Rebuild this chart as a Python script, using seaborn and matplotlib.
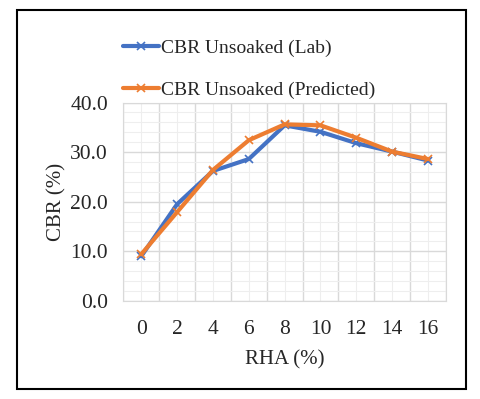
import matplotlib
matplotlib.use("Agg")
import matplotlib.pyplot as plt
from matplotlib.patches import Rectangle
from matplotlib.ticker import MultipleLocator
import seaborn as sns
import pandas as pd

rha = [0, 2, 4, 6, 8, 10, 12, 14, 16]
cbr_lab = [9.0, 19.5, 26.2, 28.6, 35.4, 34.1, 31.8, 30.1, 28.3]
cbr_pred = [9.4, 17.9, 26.4, 32.4, 35.6, 35.4, 32.9, 30.1, 28.6]
labels = ["CBR Unsoaked (Lab)", "CBR Unsoaked (Predicted)"]

df = pd.DataFrame({
    "RHA": rha * 2,
    "CBR": cbr_lab + cbr_pred,
    "series": [labels[0]] * len(rha) + [labels[1]] * len(rha),
})

sns.set_style("white")
plt.rcParams["font.family"] = ["Liberation Serif", "DejaVu Serif"]

fig = plt.figure(figsize=(4.8, 3.99), dpi=100)
ax = fig.add_axes([0.257, 0.246, 0.672, 0.497])

sns.lineplot(data=df, x="RHA", y="CBR", hue="series",
             palette=["#4472C4", "#ED7D31"], marker="x", markersize=6,
             markeredgewidth=1.2, linewidth=3, ax=ax, legend=False)
for ln in ax.get_lines():
    ln.set_markeredgecolor(ln.get_color())

ax.set_xlim(-1, 17)
ax.set_ylim(0, 40)
ax.set_xticks(rha)
ax.xaxis.set_minor_locator(MultipleLocator(2, offset=1))
ax.yaxis.set_major_locator(MultipleLocator(10))
ax.yaxis.set_minor_locator(MultipleLocator(2))
ax.set_yticklabels([f"{v:.1f}" for v in ax.get_yticks()])
ax.grid(which="minor", axis="x", color="#d9d9d9", linewidth=1)
ax.grid(which="major", axis="x", color="#eeeeee", linewidth=0.8)
ax.grid(which="major", axis="y", color="#d9d9d9", linewidth=1)
ax.grid(which="minor", axis="y", color="#eeeeee", linewidth=0.8)
ax.set_axisbelow(True)
ax.tick_params(which="both", length=0, labelsize=15.5)
ax.tick_params(axis="y", pad=11)
ax.tick_params(axis="x", pad=14)
for s in ax.spines.values():
    s.set_color("#d9d9d9")
ax.set_xlabel("RHA (%)", fontsize=15, labelpad=8)
ax.set_ylabel("CBR (%)", fontsize=15, labelpad=3)

handles = ax.get_lines()[:2]
fig.legend(handles, labels, loc="upper left", bbox_to_anchor=(0.22, 0.945),
           frameon=False, fontsize=14, handlelength=1.85,
           handletextpad=0.1, labelspacing=1.25)

fig.patches.append(Rectangle((17 / 480, 1 - 389 / 399), 449 / 480, 379 / 399,
                             transform=fig.transFigure, fill=False,
                             edgecolor="black", linewidth=1.5))

fig.savefig("out.png", dpi=100)
